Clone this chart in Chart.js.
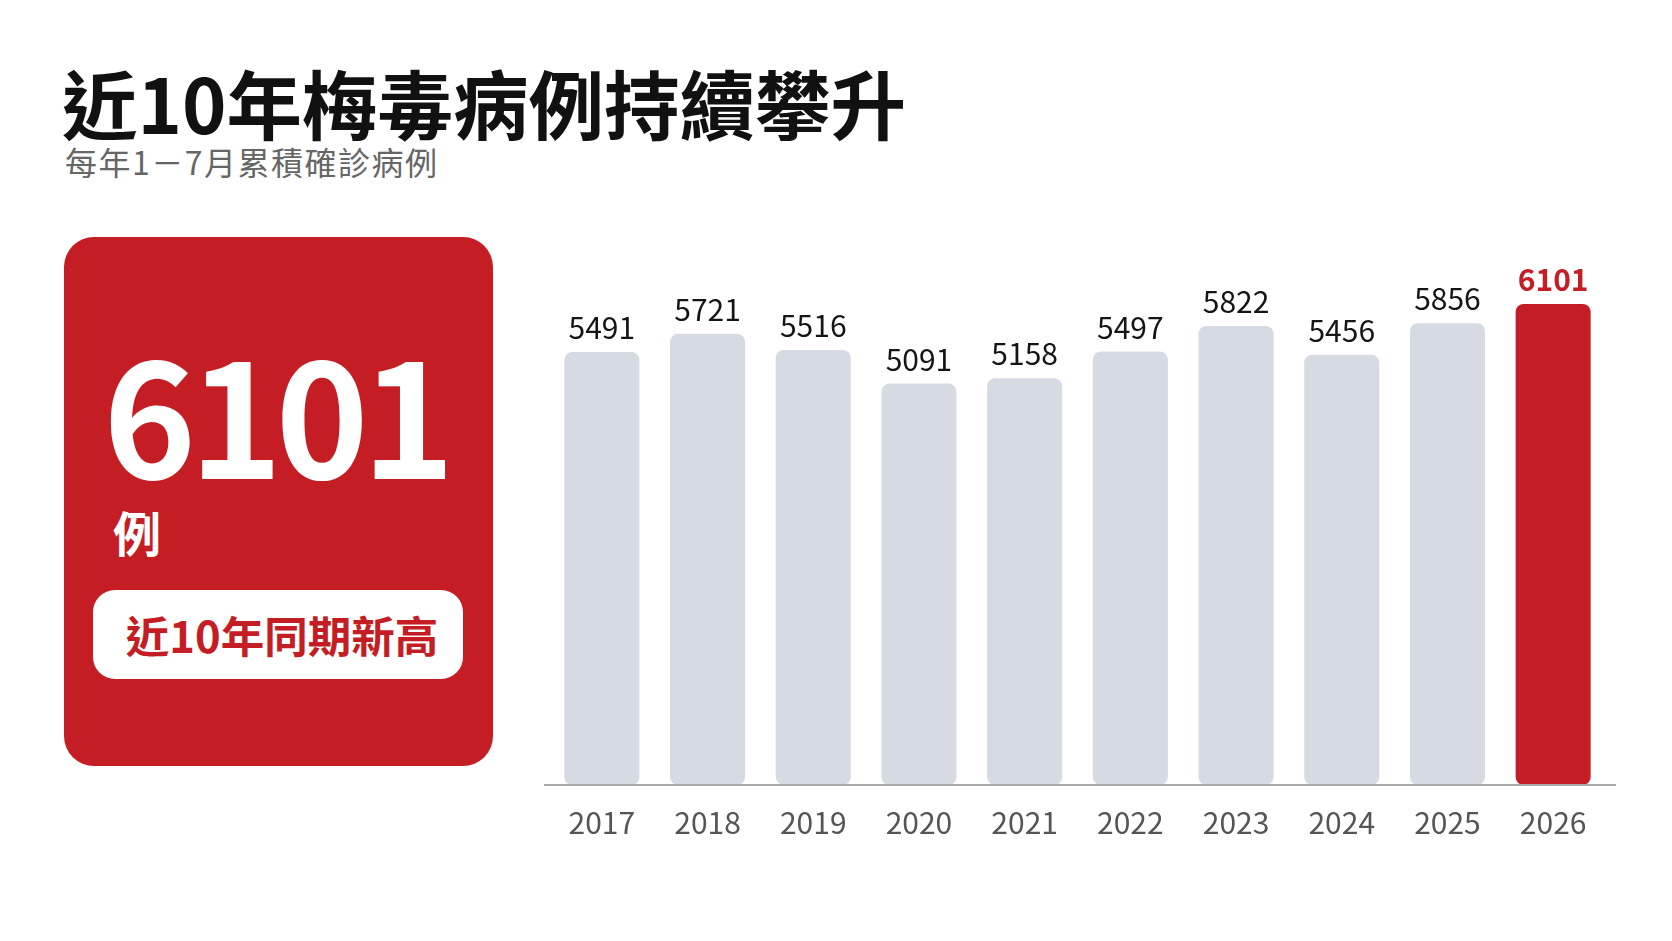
<!DOCTYPE html>
<html lang="zh-Hant">
<head>
<meta charset="UTF-8">
<title>近10年梅毒病例持續攀升</title>
<script src="https://cdn.jsdelivr.net/npm/chart.js"></script>
<style>
  html, body { margin: 0; padding: 0; background: #fff; }
  body { width: 1672px; height: 941px; position: relative; overflow: hidden; font-family: 'Noto Sans CJK TC', 'Noto Sans', sans-serif; }
  .title { position: absolute; left: 62px; top: 64px; font-size: 75.5px; font-weight: 700; line-height: 1; color: #111; white-space: nowrap; }
  .subtitle { position: absolute; left: 65px; top: 145px; font-size: 32px; letter-spacing: 1.5px; line-height: 1; color: #666; white-space: nowrap; }
  .card { position: absolute; left: 64px; top: 237px; width: 429px; height: 529px; background: #C41E24; border-radius: 30px; }
  .big { position: absolute; left: 39px; top: 95px; font-size: 158px; letter-spacing: -7px; font-weight: 700; line-height: 1; color: #fff; }
  .unit { position: absolute; left: 49px; top: 270px; font-size: 48px; font-weight: 700; line-height: 1; color: #fff; }
  .pill { position: absolute; left: 29px; top: 353px; width: 370px; height: 89px; background: #fff; border-radius: 22px; box-sizing: border-box; padding-left: 8px;
          display: flex; align-items: center; justify-content: center; font-size: 43.5px; font-weight: 700; color: #C41E24; }
  .chart-box { position: absolute; left: 535px; top: 233px; width: 1085px; height: 635px; }
</style>
</head>
<body>
  <div class="title">近10年梅毒病例持續攀升</div>
  <div class="subtitle">每年1－7月累積確診病例</div>
  <div class="card">
    <div class="big">6101</div>
    <div class="unit">例</div>
    <div class="pill">近10年同期新高</div>
  </div>
  <div class="chart-box"><canvas id="barChart"></canvas></div>

<script>
  const years = ['2017', '2018', '2019', '2020', '2021', '2022', '2023', '2024', '2025', '2026'];
  const cases = [5491, 5721, 5516, 5091, 5158, 5497, 5822, 5456, 5856, 6101];

  const grey = '#D5DAE3';
  const red = '#C41E24';
  const lastIdx = cases.length - 1;

  // baseline runs a little past the bars on both sides
  const baseLine = {
    id: 'baseLine',
    afterDatasetsDraw(chart) {
      const { ctx: c, chartArea: a } = chart;
      c.save();
      c.strokeStyle = '#aaaaaa';
      c.lineWidth = 2;
      c.beginPath();
      c.moveTo(a.left - 5, a.bottom);
      c.lineTo(a.right + 10, a.bottom);
      c.stroke();
      c.restore();
    }
  };

  // value labels above each bar
  const valueLabels = {
    id: 'valueLabels',
    afterDatasetsDraw(chart) {
      const c = chart.ctx;
      const meta = chart.getDatasetMeta(0);
      c.save();
      c.textAlign = 'center';
      c.textBaseline = 'alphabetic';
      meta.data.forEach((bar, i) => {
        const hi = i === lastIdx;
        c.fillStyle = hi ? red : '#151515';
        c.font = (hi ? '600 ' : '400 ') + '30px "Noto Sans CJK TC", "Noto Sans", sans-serif';
        c.fillText(String(cases[i]), bar.x, bar.y - 13);
      });
      c.restore();
    }
  };

  new Chart(document.getElementById('barChart'), {
    type: 'bar',
    data: {
      labels: years,
      datasets: [{
        data: cases,
        backgroundColor: cases.map((v, i) => i === lastIdx ? red : grey),
        borderRadius: 8,
        borderSkipped: false,
        categoryPercentage: 0.71,
        barPercentage: 1
      }]
    },
    options: {
      responsive: true,
      maintainAspectRatio: false,
      animation: false,
      layout: { padding: { left: 14, right: 14, top: 0, bottom: 0 } },
      plugins: { legend: { display: false }, tooltip: { enabled: false } },
      scales: {
        x: {
          grid: { display: false, drawTicks: false },
          border: { display: false },
          ticks: { color: '#555', padding: 20, font: { family: '"Noto Sans CJK TC", "Noto Sans", sans-serif', size: 30 } },
          afterFit(scale) { scale.height = 83; }
        },
        y: { display: false, min: 0, max: 7000 }
      }
    },
    plugins: [baseLine, valueLabels]
  });
</script>
</body>
</html>
